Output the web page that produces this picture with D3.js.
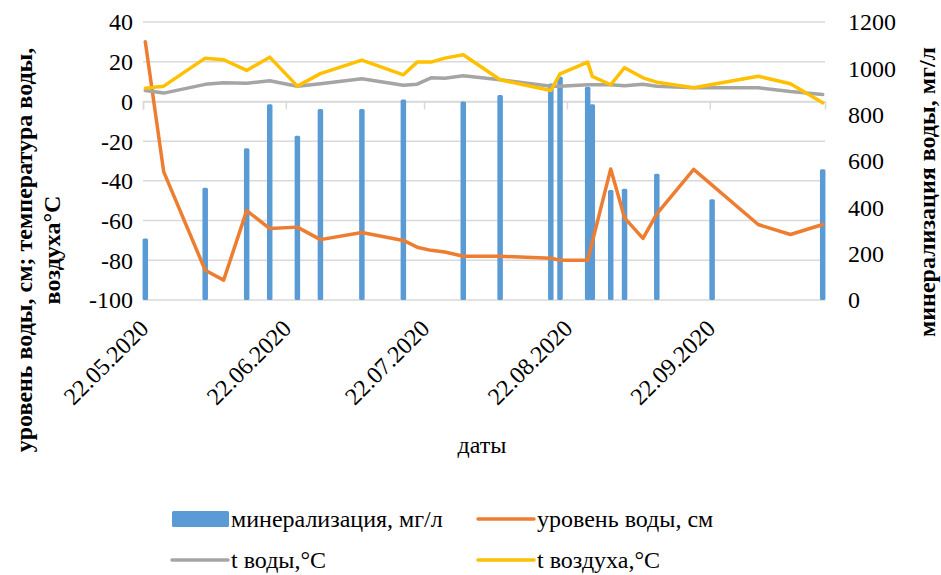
<!DOCTYPE html>
<html>
<head>
<meta charset="utf-8">
<script src="https://cdn.jsdelivr.net/npm/d3@7"></script>
</head>
<body style="margin:0">
<svg width="941" height="575" id="s" style="display:block"></svg>
<script>
// ---- data ----
const dates = ["2020-05-22","2020-05-26","2020-06-04","2020-06-08","2020-06-13","2020-06-18","2020-06-24","2020-06-29",
  "2020-07-08","2020-07-17","2020-07-20","2020-07-23","2020-07-26","2020-07-30","2020-08-07","2020-08-18","2020-08-20",
  "2020-08-26","2020-08-27","2020-08-31","2020-09-03","2020-09-07","2020-09-10","2020-09-18","2020-09-22","2020-10-02",
  "2020-10-09","2020-10-16"];
const mineralization = [265,null,485,null,655,845,709,824,824,866,null,null,null,857,885,935,964,920,845,475,480,null,545,null,435,null,null,564];
const waterLevel = [30,-35.5,-85,-90,-55,-64,-63.3,-69.6,-66,-70,-73.4,-75,-75.8,-78,-78,-79,-80,-80,null,-34,-58.6,-69,-56.6,-34.2,null,-62,-67,-62];
const tWater = [5.5,4.2,8.6,9.4,9.2,10.4,7.6,8.9,11.4,8.1,8.7,11.9,11.7,12.9,10.9,7.7,7.7,8.4,8.4,8.4,7.9,8.6,7.6,6.9,null,6.9,5.0,3.5];
const tAir = [6.7,7.7,21.8,21,15.6,22.3,7.7,14,20.8,13.4,19.8,19.8,21.8,23.5,10.9,5.5,13.9,19.8,12.6,8.4,17,11.9,9.7,6.9,null,12.7,8.9,-0.7];
const leftTicks = [-100,-80,-60,-40,-20,0,20,40];
const rightTicks = [0,200,400,600,800,1000,1200];
const xTickDates = ["2020-05-22","2020-06-22","2020-07-22","2020-08-22","2020-09-22"];
const xDomain = ["2020-05-22","2020-10-17"];
const seriesNames = ["минерализация, мг/л","уровень воды, см","t воды,°C","t воздуха,°C"];
const colors = ["#5b9bd5","#ed7d31","#a5a5a5","#ffc000"];

// ---- layout ----
const FONT = "Liberation Serif";
const plot = {left: 143, right: 825, top: 22, bottom: 300};
const parse = d3.timeParse("%Y-%m-%d");
const half = 12 * 3600 * 1000;

const svg = d3.select("#s");

const x = d3.scaleTime().domain(xDomain.map(parse)).range([plot.left, plot.right]);
const yL = d3.scaleLinear().domain([-100, 40]).range([plot.bottom, plot.top]);
const yR = d3.scaleLinear().domain([0, 1200]).range([plot.bottom, plot.top]);
const cx = d => x(new Date(parse(d).getTime() + half));

function txt(sel) {
  return sel.attr("font-family", FONT).style("font-family", FONT, "important")
    .style("font-size", "24px").attr("fill", "#000");
}

// gridlines
svg.append("g").selectAll("line").data(leftTicks).join("line")
  .attr("x1", plot.left).attr("x2", plot.right)
  .attr("y1", d => yL(d)).attr("y2", d => yL(d))
  .attr("stroke", "#d9d9d9").attr("stroke-width", 1.5);

// x axis line at 0 with ticks
const xAxisG = svg.append("g").attr("transform", `translate(0,${yL(0)})`);
xAxisG.call(d3.axisBottom(x).tickValues(xTickDates.map(parse)).tickSize(8).tickFormat(""));
xAxisG.select(".domain").attr("stroke", "#d9d9d9").attr("stroke-width", 1.5);
xAxisG.selectAll(".tick line").attr("stroke", "#d9d9d9").attr("stroke-width", 1.5);

// x tick labels (low position)
const fmt = d3.timeFormat("%d.%m.%Y");
txt(svg.append("g").selectAll("text").data(xTickDates).join("text")
  .attr("transform", d => `translate(${x(parse(d)) + 1},${plot.bottom + 24}) rotate(-45)`)
  .attr("text-anchor", "end").attr("dy", "0.35em")
  .text(d => fmt(parse(d))));

// left axis labels
txt(svg.append("g").selectAll("text").data(leftTicks).join("text")
  .attr("x", 133).attr("y", d => yL(d)).attr("dy", "0.35em")
  .attr("text-anchor", "end")
  .text(d => d));

// right axis labels
txt(svg.append("g").selectAll("text").data(rightTicks).join("text")
  .attr("x", 848).attr("y", d => yR(d)).attr("dy", "0.35em")
  .attr("text-anchor", "start")
  .text(d => d));

// bars
const barData = dates.map((d, i) => ({d, v: mineralization[i]})).filter(o => o.v != null);
const bw = 5.5;
svg.append("g").selectAll("rect").data(barData).join("rect")
  .attr("x", o => cx(o.d) - bw / 2).attr("width", bw)
  .attr("y", o => yR(o.v)).attr("height", o => yR(0) - yR(o.v))
  .attr("rx", 1.5)
  .attr("fill", colors[0]);

// lines
const line = d3.line().x(o => cx(o.d)).y(o => yL(o.v));
[[waterLevel, colors[1]], [tWater, colors[2]], [tAir, colors[3]]].forEach(([vals, c]) => {
  const pts = dates.map((d, i) => ({d, v: vals[i]})).filter(o => o.v != null);
  svg.append("path").datum(pts).attr("d", line)
    .attr("fill", "none").attr("stroke", c).attr("stroke-width", 3.5)
    .attr("stroke-linejoin", "round").attr("stroke-linecap", "round");
});

// axis titles
txt(svg.append("text")
  .attr("transform", `translate(24,250) rotate(-90)`)
  .attr("text-anchor", "middle").attr("dy", "0.35em")
  .text("уровень воды, см; температура воды,")).style("font-weight", "bold");
txt(svg.append("text")
  .attr("transform", `translate(52,250) rotate(-90)`)
  .attr("text-anchor", "middle").attr("dy", "0.35em")
  .text("воздуха°C")).style("font-weight", "bold");
txt(svg.append("text")
  .attr("transform", `translate(927,192) rotate(-90)`)
  .attr("text-anchor", "middle").attr("dy", "0.35em")
  .text("минерализация воды, мг/л")).style("font-weight", "bold");
txt(svg.append("text")
  .attr("x", 482).attr("y", 453).attr("text-anchor", "middle")
  .text("даты"));

// legend
const legendPos = [[172, 519], [478, 519], [172, 560], [478, 560]];
const lg = svg.append("g");
seriesNames.forEach((name, i) => {
  const [lx, ly] = legendPos[i];
  if (i === 0) {
    lg.append("rect").attr("x", lx).attr("y", ly - 8).attr("width", 57).attr("height", 16)
      .attr("rx", 1.5).attr("fill", colors[0]);
  } else {
    lg.append("line").attr("x1", lx).attr("x2", lx + 56).attr("y1", ly).attr("y2", ly)
      .attr("stroke", colors[i]).attr("stroke-width", 3.5).attr("stroke-linecap", "round");
  }
  txt(lg.append("text").attr("x", lx + 59).attr("y", ly).attr("dy", "0.35em").text(name));
});
</script>
</body>
</html>
